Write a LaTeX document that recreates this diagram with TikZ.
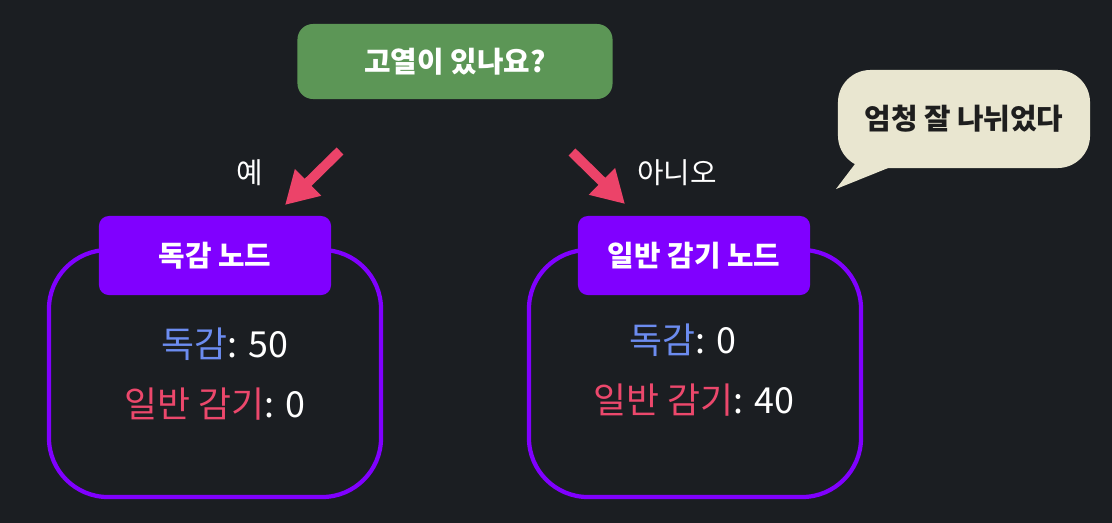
\documentclass[tikz,border=0pt]{standalone}
\usepackage{fontspec}
\setmainfont{Noto Sans CJK KR}
\usepackage{tikz}
\usetikzlibrary{arrows.meta, calc, backgrounds}
\definecolor{darkbg}{RGB}{27,30,34}
\definecolor{questcol}{RGB}{92,150,86}
\definecolor{nodecol}{RGB}{128,0,255}
\definecolor{arrowcol}{RGB}{236,67,105}
\definecolor{flucol}{RGB}{108,140,240}
\definecolor{coldcol}{RGB}{236,72,108}
\definecolor{bubblecol}{RGB}{233,230,208}
\definecolor{bubbletext}{RGB}{30,30,30}

\begin{document}
\begin{tikzpicture}[
    x=0.025cm, y=-0.025cm,
    background rectangle/.style={fill=darkbg},
    show background rectangle,
    arr/.style={-{Triangle[length=23pt, width=25pt]}, line width=7pt, draw=arrowcol},
    question/.style={fill=questcol, rounded corners=11pt, minimum width=7.875cm,
                     minimum height=1.875cm, text=white, font=\fontsize{20.5}{24}\selectfont\bfseries},
    header/.style={fill=nodecol, rounded corners=7pt, minimum width=5.8cm,
                   minimum height=1.975cm, text=white, font=\fontsize{20.5}{24}\selectfont\bfseries},
    container/.style={draw=nodecol, line width=3pt, rounded corners=42pt,
                      minimum width=8.3cm, minimum height=6.175cm},
    value/.style={text=white, font=\fontsize{25.5}{30}\selectfont},
    answer/.style={text=white, font=\fontsize{20.5}{24}\selectfont},
]

\path[use as bounding box] (0,0) rectangle (1112,522);

% ════════════════════════════════════════════════════════
% 0. QUESTION
% ════════════════════════════════════════════════════════
\node[question] (fever) at (455, 61.5) {고열이 있나요?};

% ════════════════════════════════════════════════════════
% 1. FLU NODE (LEFT)
% ════════════════════════════════════════════════════════
\node[container] (flu) at (215, 373.5) {};
\node[header] (fluhead) at (215, 255.5) {독감 노드};
\node[value] (flu1) at (225, 344) {\textcolor{flucol}{독감}: 50};
\node[value] (flu2) at (215, 404) {\textcolor{coldcol}{일반 감기}: 0};

% ════════════════════════════════════════════════════════
% 2. COLD NODE (RIGHT)
% ════════════════════════════════════════════════════════
\node[container] (cold) at (695, 373.5) {};
\node[header] (coldhead) at (694, 255.5) {일반 감기 노드};
\node[value] (cold1) at (683, 340) {\textcolor{flucol}{독감}: 0};
\node[value] (cold2) at (694, 400) {\textcolor{coldcol}{일반 감기}: 40};

% ════════════════════════════════════════════════════════
% 3. ARROWS
% ════════════════════════════════════════════════════════
\coordinate (yesfrom) at (340, 151);
\coordinate (yesto)   at (285, 205);
\coordinate (nofrom)  at (572, 152);
\coordinate (noto)    at (625, 204);

\draw[arr] (yesfrom) -- (yesto);
\draw[arr] (nofrom) -- (noto);

\node[answer] (yes) at (250, 173) {예};
\node[answer] (no)  at (677, 173) {아니오};

% ════════════════════════════════════════════════════════
% 4. SPEECH BUBBLE
% ════════════════════════════════════════════════════════
\fill[bubblecol] (858, 160) -- (836, 189) -- (908, 160) -- cycle;
\node[fill=bubblecol, rounded corners=23pt, minimum width=6.3cm, minimum height=2.45cm,
      text=bubbletext, font=\fontsize{20.5}{24}\selectfont\bfseries] (comment) at (964, 119) {엄청 잘 나뉘었다};

\end{tikzpicture}
\end{document}
